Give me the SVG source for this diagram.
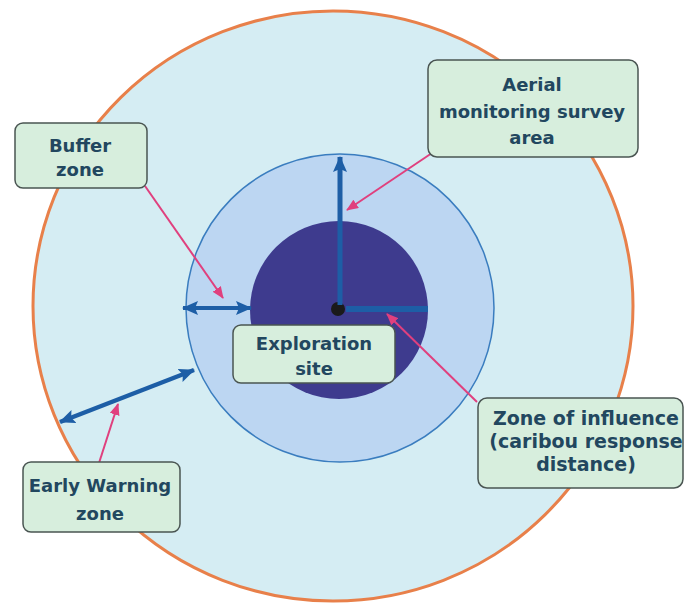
<svg xmlns="http://www.w3.org/2000/svg" width="684" height="605" viewBox="0 0 684 605">
<style>
.box{fill:#d7eedd;stroke:#4a5552;stroke-width:1.5}
.lbl{font-family:"DejaVu Sans",Verdana,sans-serif;font-weight:bold;font-size:18px;fill:#22475f;text-anchor:middle}
.blue{stroke:#1d5ea6;fill:none;stroke-linecap:butt}
.pink{stroke:#e0407e;stroke-width:2;fill:none}
</style>
<defs>
<marker id="bh" markerUnits="userSpaceOnUse" markerWidth="16" markerHeight="14" refX="15" refY="7" orient="auto-start-reverse">
<path d="M0,0 L16,7 L0,14 L3,7 z" fill="#1d5ea6"/>
</marker>
<marker id="ph" markerUnits="userSpaceOnUse" markerWidth="12" markerHeight="10" refX="11" refY="5" orient="auto">
<path d="M0,0 L12,5 L0,10 z" fill="#e0407e"/>
</marker>
</defs>
<rect width="684" height="605" fill="#ffffff"/>
<g id="zones">
<ellipse id="early-warning-area" cx="333" cy="306" rx="300" ry="295" fill="#d5edf3" stroke="#e8804a" stroke-width="3"/>
<circle id="buffer-area" cx="340" cy="308" r="154" fill="#bcd6f2" stroke="#3a7dbf" stroke-width="1.5"/>
<circle id="influence-area" cx="339" cy="310" r="89" fill="#3e3b8e"/>
<circle id="site-dot" cx="338" cy="309" r="7" fill="#1a1a1a"/>
</g>
<g id="connectors">
<line class="blue" x1="340" y1="305" x2="340" y2="157" stroke-width="5" marker-end="url(#bh)"/>
<line class="blue" x1="346" y1="309" x2="428" y2="309" stroke-width="6"/>
<line class="blue" x1="183" y1="308" x2="251" y2="308" stroke-width="4" marker-start="url(#bh)" marker-end="url(#bh)"/>
<line class="blue" x1="60" y1="422" x2="194" y2="370" stroke-width="4.5" marker-start="url(#bh)" marker-end="url(#bh)"/>
<line class="pink" x1="145" y1="186" x2="223" y2="298" marker-end="url(#ph)"/>
<line class="pink" x1="432" y1="153" x2="347" y2="210" marker-end="url(#ph)"/>
<line class="pink" x1="477" y1="402" x2="387" y2="314" marker-end="url(#ph)"/>
<line class="pink" x1="99" y1="463" x2="118" y2="404" marker-end="url(#ph)"/>
</g>
<g id="aerial">
<rect class="box" x="428" y="60" width="210" height="97" rx="9"/>
<text class="lbl" x="532" y="91">Aerial</text>
<text class="lbl" x="532" y="118">monitoring survey</text>
<text class="lbl" x="532" y="144">area</text>
</g>
<g id="buffer">
<rect class="box" x="15" y="123" width="132" height="65" rx="8"/>
<text class="lbl" x="80" y="152">Buffer</text>
<text class="lbl" x="80" y="176">zone</text>
</g>
<g id="exploration">
<rect class="box" x="233" y="325" width="162" height="58" rx="8"/>
<text class="lbl" x="314" y="350">Exploration</text>
<text class="lbl" x="314" y="375">site</text>
</g>
<g id="influence">
<rect class="box" x="478" y="398" width="205" height="90" rx="9"/>
<text class="lbl" x="586" y="425" style="font-size:19px">Zone of influence</text>
<text class="lbl" x="586" y="448" style="font-size:19px">(caribou response</text>
<text class="lbl" x="586" y="471" style="font-size:19px">distance)</text>
</g>
<g id="early-warning">
<rect class="box" x="23" y="462" width="157" height="70" rx="8"/>
<text class="lbl" x="100" y="492">Early Warning</text>
<text class="lbl" x="100" y="520">zone</text>
</g>
</svg>
